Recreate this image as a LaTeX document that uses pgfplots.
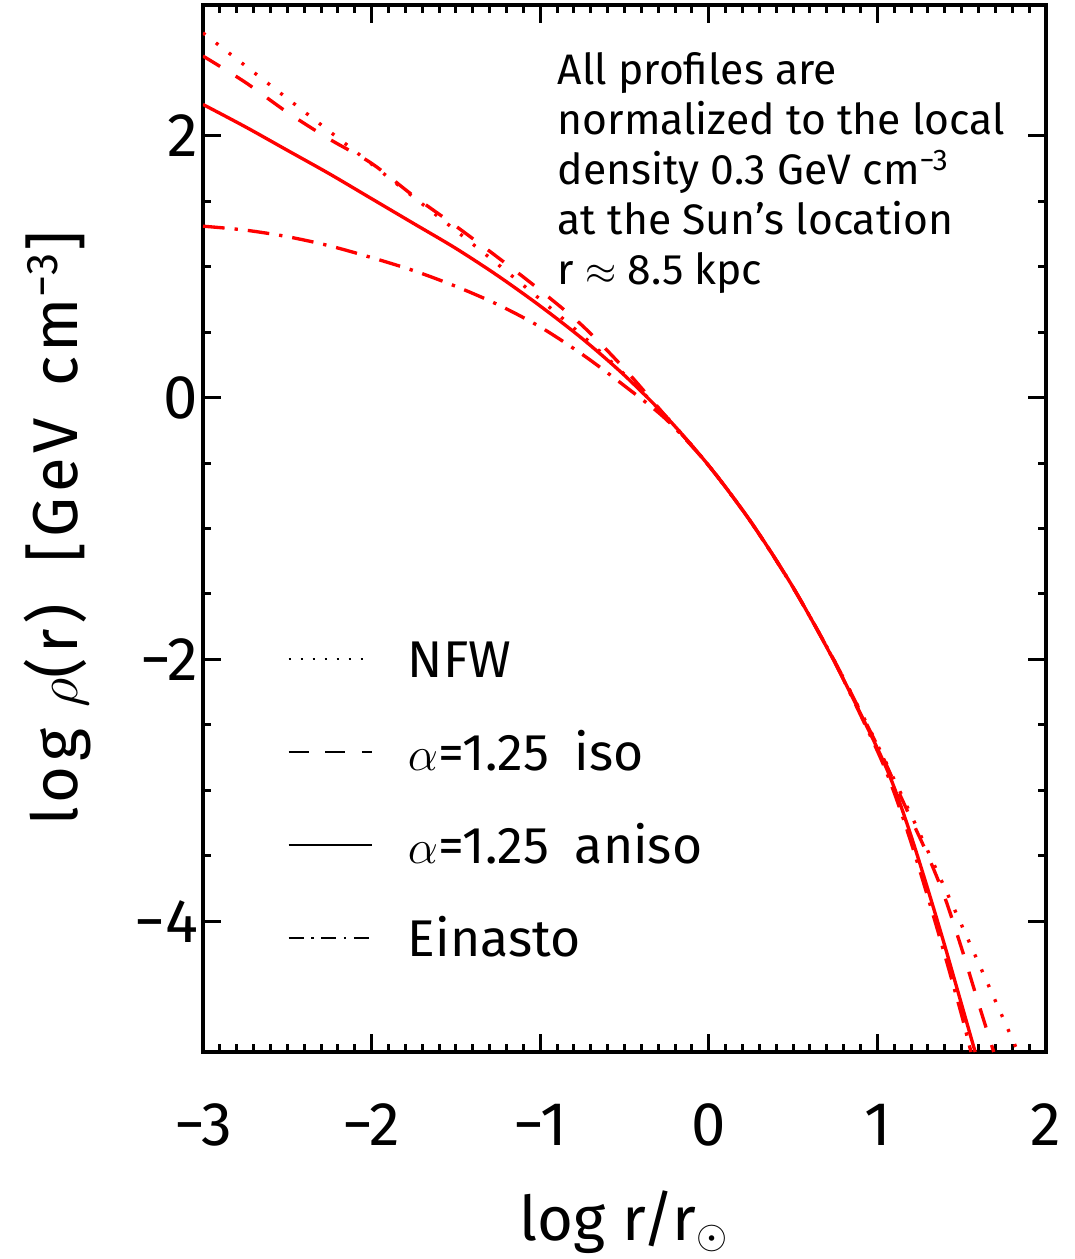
\documentclass[border=0pt]{standalone}
\usepackage{pgfplots}
\pgfplotsset{compat=1.18}
\usepackage{fontspec}
\setmainfont{Fira Sans}

\pgfplotstableread{
x y
-3.00 2.787
-2.75 2.537
-2.50 2.286
-2.25 2.035
-2.00 1.784
-1.75 1.531
-1.50 1.276
-1.25 1.017
-1.00 0.751
-0.75 0.474
-0.50 0.178
-0.25 -0.149
0.00 -0.520
0.25 -0.951
0.50 -1.452
0.75 -2.023
1.00 -2.653
1.25 -3.327
1.50 -4.032
1.75 -4.755
1.85 -5.048
}\nfw

\pgfplotstableread{
x y
-3.00 2.61
-2.75 2.41
-2.50 2.18
-2.25 1.975
-2.00 1.79
-1.75 1.54
-1.50 1.31
-1.25 1.07
-1.00 0.82
-0.75 0.55
-0.50 0.22
-0.25 -0.15
0.00 -0.52
0.25 -0.951
0.50 -1.452
0.75 -2.023
1.00 -2.66
1.10 -2.94
1.20 -3.22
1.30 -3.50
1.40 -3.82
1.50 -4.21
1.60 -4.63
1.69 -5.00
}\iso

\pgfplotstableread{
x y
-3.00 2.24
-2.75 2.07
-2.50 1.89
-2.25 1.71
-2.00 1.52
-1.75 1.33
-1.50 1.14
-1.25 0.93
-1.00 0.70
-0.75 0.45
-0.50 0.17
-0.25 -0.15
0.00 -0.52
0.25 -0.95
0.50 -1.45
0.75 -2.03
1.00 -2.68
1.10 -2.98
1.20 -3.35
1.30 -3.76
1.40 -4.19
1.50 -4.64
1.58 -5.00
}\aniso

\pgfplotstableread{
x y
-3.00 1.31
-2.75 1.28
-2.50 1.23
-2.25 1.16
-2.00 1.07
-1.75 0.97
-1.50 0.85
-1.25 0.71
-1.00 0.54
-0.75 0.33
-0.50 0.09
-0.25 -0.17
0.00 -0.52
0.25 -0.95
0.50 -1.45
0.75 -2.03
1.00 -2.70
1.10 -3.02
1.20 -3.40
1.30 -3.82
1.40 -4.26
1.50 -4.72
1.555 -5.00
}\einasto

\begin{document}
\begin{tikzpicture}
\begin{axis}[
  scale only axis,
  width=252.9pt, height=314.1pt,
  xmin=-3, xmax=2, ymin=-5, ymax=3,
  xtick={-3,-2,-1,0,1,2}, xticklabels={−3,−2,−1,0,1,2},
  ytick={-4,-2,0,2}, yticklabels={−4,−2,0,2},
  minor x tick num=9, minor y tick num=3,
  tick align=inside,
  major tick length=5.5pt, minor tick length=2.5pt,
  axis line style={line width=1pt},
  every tick/.style={black, line width=0.9pt},
  tick label style={font=\fontsize{18.5}{20}\selectfont},
  xticklabel style={yshift=-12pt},
  yticklabel style={xshift=2pt},
  xlabel={log r/r$_\odot$},
  ylabel={log $\rho$(r)\enspace\,[GeV\, cm\textsuperscript{−3}]},
  xlabel style={at={(axis description cs:0.5,-0.1796)}, anchor=base, font=\fontsize{18.5}{20}\selectfont},
  ylabel style={at={(axis description cs:-0.1483,0.5)}, anchor=base, font=\fontsize{19}{20}\selectfont\addfontfeature{LetterSpace=7}},
  legend cell align=left,
  legend style={at={(axis description cs:0.0996,0.3935)}, anchor=north west,
    draw=none, fill=none, inner sep=0pt,
    nodes={inner sep=0pt, text height=11pt, text depth=0pt},
    row sep=16.9pt, column sep=10.5pt,
    font=\fontsize{15.5}{17}\selectfont},
  legend image code/.code={\draw[#1] (0pt,0pt) -- (25pt,0pt);},
]
\addlegendimage{black, line width=0.6pt, dash pattern=on 0.7pt off 2.9pt}
\addlegendentry{NFW}
\addlegendimage{black, line width=0.6pt, dash pattern=on 6pt off 5pt}
\addlegendentry{$\alpha$=1.25\enspace iso}
\addlegendimage{black, line width=0.6pt}
\addlegendentry{$\alpha$=1.25\enspace aniso}
\addlegendimage{black, line width=0.6pt, dash pattern=on 4.5pt off 2.3pt on 0.7pt off 2.3pt}
\addlegendentry{Einasto}

\addplot[forget plot, red, line width=1pt, smooth, dash pattern=on 0.9pt off 4pt] table {\nfw};
\addplot[forget plot, red, line width=1pt, smooth, dash pattern=on 6pt off 5.5pt] table {\iso};
\addplot[forget plot, red, line width=1pt, smooth] table {\aniso};
\addplot[forget plot, red, line width=1pt, smooth, dash pattern=on 6.5pt off 3pt on 1pt off 3pt] table {\einasto};

\node[anchor=north west, align=left, inner sep=0pt, font=\fontsize{12.8}{15}\selectfont]
  at (rel axis cs:0.42,0.955) {All profiles are\\normalized to the local\\density 0.3 GeV cm\textsuperscript{−3}\\at the Sun’s location\\r $\approx$ 8.5 kpc};
\end{axis}
\pgfresetboundingbox
\path[use as bounding box] ([xshift=-60.9pt,yshift=-62.1pt]current axis.south west) rectangle ([xshift=8.4pt,yshift=1.5pt]current axis.north east);
\end{tikzpicture}
\end{document}
